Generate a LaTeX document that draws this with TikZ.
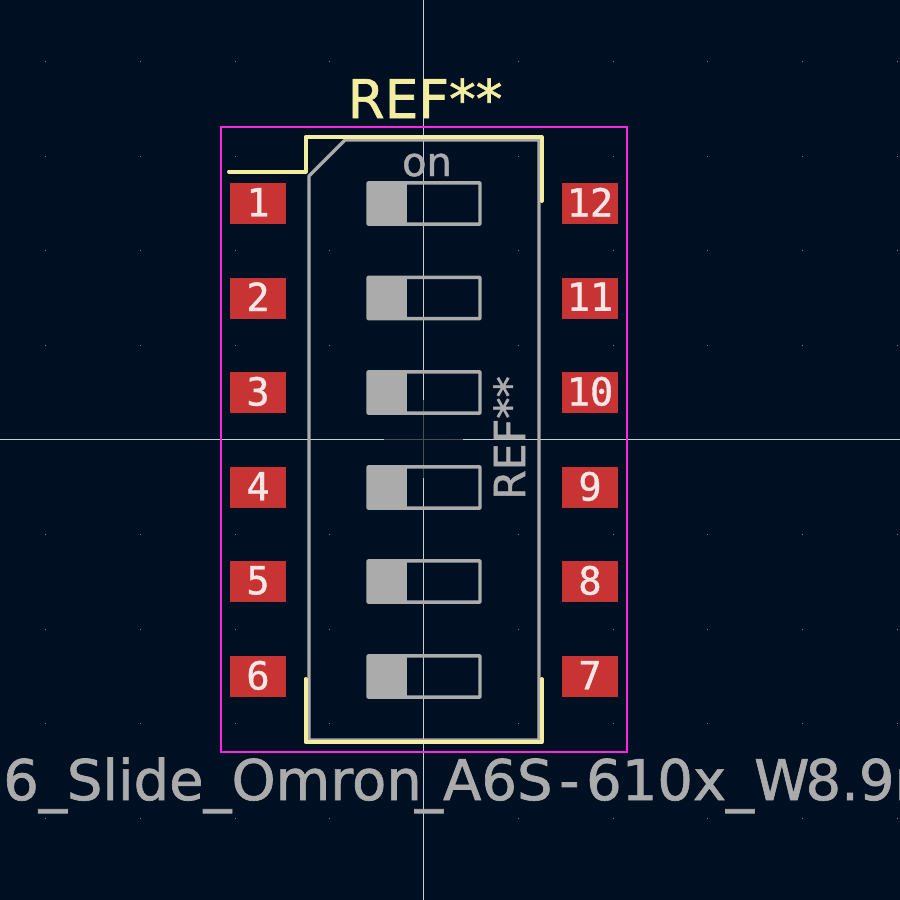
\documentclass[tikz,border=0pt]{standalone}
\usepackage{fontspec}
\newfontfamily\padfont[FakeBold=1]{DejaVu Sans Mono}
\newfontfamily\reffont[FakeBold=1.2]{DejaVu Sans}
\definecolor{boardbg}{HTML}{001023}
\definecolor{silk}{HTML}{F2EDA1}
\definecolor{fab}{HTML}{ABABAB}
\definecolor{court}{HTML}{FF26E2}
\definecolor{padred}{HTML}{C83434}
\definecolor{padtext}{HTML}{F6E6E6}
\definecolor{cross}{HTML}{C9CDD2}
\definecolor{griddot}{HTML}{7A828C}
\tikzset{
    silkline/.style={draw=silk,line width=3pt,line cap=round,line join=round},
    fabline/.style={draw=fab,line width=2.4pt,line join=round},
    pad/.style={shape=rectangle,fill=padred,text=padtext,inner sep=0pt,text depth=2pt,minimum width=42pt,minimum height=30.75pt,font=\padfont\fontsize{29}{29}\selectfont},
    switchbox/.style={shape=rectangle,draw=fab,line width=2.6pt,inner sep=0pt,minimum width=84pt,minimum height=31pt,rounded corners=0.6pt},
    knob/.style={shape=rectangle,fill=fab,inner sep=0pt,minimum width=30pt,minimum height=31pt,anchor=west},
}
\begin{document}
\begin{tikzpicture}[x=0.75pt,y=-0.75pt]
    \fill[boardbg] (0,0) rectangle (900,900);
    \useasboundingbox (0,0) rectangle (900,900);
    % grid
    \foreach \gx in {45.5,140.5,235,329.5,518,613,707.5,802,897}
        \foreach \gy in {61,156,250.5,345,534,629,723,818}
            \fill[griddot] (\gx-0.5,\gy-0.5) rectangle (\gx+0.5,\gy+0.5);
    % crosshair
    \draw[cross,line width=0.75pt] (423.5,0) -- (423.5,900);
    \draw[cross,line width=0.75pt] (0,439) -- (900,439);
    \draw[griddot!60!black,line width=0.75pt] (423.5,400) -- (423.5,478);
    \draw[griddot!60!black,line width=0.75pt] (384,439) -- (463,439);
    % courtyard
    \draw[court,line width=1.6pt] (221,127) rectangle (627,752);
    % fab outline
    \draw[fabline] (345,140) -- (539,140) -- (539,740) -- (309,740) -- (309,176) -- cycle;
    % silkscreen
    \draw[silkline] (229,171.5) -- (305.5,171.5) -- (305.5,137) -- (541.5,137) -- (541.5,201);
    \draw[silkline] (305.5,679) -- (305.5,742) -- (541.5,742) -- (541.5,679);
    % switches
    \node[switchbox] (s1) at (424,203.5) {};
    \node[switchbox] (s2) at (424,298) {};
    \node[switchbox] (s3) at (424,392.5) {};
    \node[switchbox] (s4) at (424,487.5) {};
    \node[switchbox] (s5) at (424,581.5) {};
    \node[switchbox] (s6) at (424,676.5) {};
    \node[knob] (k1) at (s1.west) {};
    \node[knob] (k2) at (s2.west) {};
    \node[knob] (k3) at (s3.west) {};
    \node[knob] (k4) at (s4.west) {};
    \node[knob] (k5) at (s5.west) {};
    \node[knob] (k6) at (s6.west) {};
    % pads
    \node[pad] (1) at (258,203.5) {1};
    \node[pad] (2) at (258,298) {2};
    \node[pad] (3) at (258,392.5) {3};
    \node[pad] (4) at (258,487.5) {4};
    \node[pad] (5) at (258,581.5) {5};
    \node[pad] (6) at (258,676.5) {6};
    \node[pad] (7) at (590,676.5) {7};
    \node[pad] (8) at (590,581.5) {8};
    \node[pad] (9) at (590,487.5) {9};
    \node[pad] (10) at (590,392.5) {10};
    \node[pad] (11) at (590,298) {11};
    \node[pad] (12) at (590,203.5) {12};
    % texts
    \node[anchor=base,inner sep=0pt,text=silk,font=\reffont\fontsize{40}{40}\selectfont] (reftop) at (425,118) {REF**};
    \node[anchor=base,inner sep=0pt,text=fab,font=\reffont\fontsize{30}{30}\selectfont] (on) at (427,176) {on};
    \node[anchor=base,inner sep=0pt,rotate=90,text=fab,font=\reffont\fontsize{32}{32}\selectfont] (refside) at (525,438) {REF**};
    \node[anchor=base west,inner sep=0pt,text=fab,font=\reffont\fontsize{42}{42}\selectfont] (value) at (3,800) {6\_Slide\_Omron\kern-5pt\_A6S\kern5pt-\kern5pt 610x\_W\kern-3pt 8.9m};
\end{tikzpicture}
\end{document}
